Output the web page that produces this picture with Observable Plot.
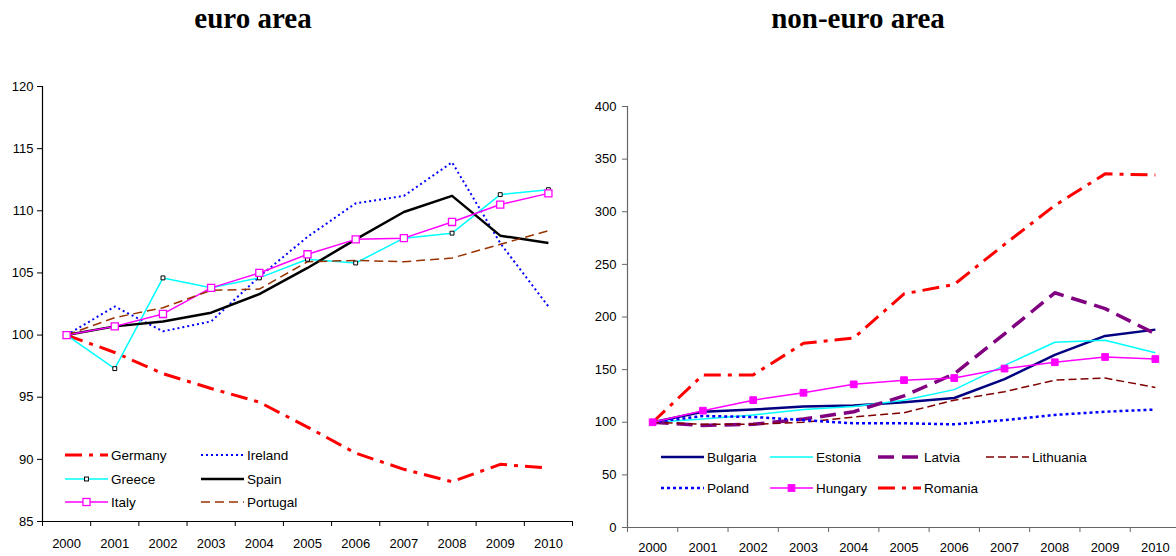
<!DOCTYPE html>
<html><head><meta charset="utf-8">
<script src="https://cdn.jsdelivr.net/npm/d3@7"></script>
<script src="https://cdn.jsdelivr.net/npm/@observablehq/plot@0.6"></script>
<style>
body{margin:0;background:#fff;}
#wrap{position:relative;width:1176px;height:556px;overflow:hidden;font-family:"Liberation Sans",Arial,sans-serif;}
.title{position:absolute;top:0;font-family:"Liberation Serif","Times New Roman",serif;font-weight:bold;font-size:29px;line-height:36px;transform:translateX(-50%);white-space:nowrap;color:#000;}
.panel{position:absolute;top:40px;}
.leg{position:absolute;display:flex;align-items:center;font-size:13.5px;height:20px;transform:translateY(-50%);white-space:nowrap;color:#000;}
.leg svg{margin-right:3px;overflow:visible;}
</style></head>
<body>
<div id="wrap">
  <div class="title" style="left:253px">euro area</div>
  <div class="title" style="left:858px">non-euro area</div>
</div>
<script>
// ---- data ----
const years = [2000, 2001, 2002, 2003, 2004, 2005, 2006, 2007, 2008, 2009, 2010];

// euro area
const germany  = [100, 98.6, 96.9, 95.7, 94.6, 92.6, 90.5, 89.2, 88.2, 89.6, 89.3];
const ireland  = [100, 102.3, 100.3, 101.1, 104.7, 107.9, 110.6, 111.2, 113.9, 107.4, 102.3];
const greece   = [100, 97.3, 104.6, 103.8, 104.6, 106.1, 105.8, 107.8, 108.2, 111.3, 111.7];
const spain    = [100, 100.7, 101.1, 101.8, 103.3, 105.4, 107.7, 109.9, 111.2, 108.0, 107.4];
const italy    = [100, 100.7, 101.7, 103.8, 105.0, 106.5, 107.7, 107.8, 109.1, 110.5, 111.4];
const portugal = [100, 101.4, 102.2, 103.6, 103.7, 105.9, 106.0, 105.9, 106.2, 107.3, 108.4];

// non-euro area
const bulgaria  = [100, 110, 112, 115, 116, 119, 123, 141, 164, 182, 188];
const estonia   = [100, 103, 107, 112, 115, 121, 131, 154, 176, 178, 166];
const latvia    = [100, 97, 98, 103, 110, 125, 146, 184, 223, 208, 184];
const lithuania = [100, 98, 98, 100, 105, 109, 121, 129, 140, 142, 133];
const poland    = [100, 106, 105, 102, 99, 99, 98, 102, 107, 110, 112];
const hungary   = [100, 111, 121, 128, 136, 140, 142, 151, 157, 162, 160];
const romania   = [100, 145, 145, 175, 180, 222, 231, 269, 306, 336, 335];

const leftTicks  = [85, 90, 95, 100, 105, 110, 115, 120];
const rightTicks = [0, 50, 100, 150, 200, 250, 300, 350, 400];

// ---- styles ----
const euroSeries = [
  {name: "Germany",  values: germany,  stroke: "#ff0000", width: 3,   dash: "17,7,4,7"},
  {name: "Ireland",  values: ireland,  stroke: "#0000ff", width: 2,   dash: "2,3"},
  {name: "Greece",   values: greece,   stroke: "#00ffff", width: 1.5, dash: null, marker: {r: 2.2, fill: "#fff", stroke: "#000", sw: 1}},
  {name: "Spain",    values: spain,    stroke: "#000000", width: 2.5, dash: null},
  {name: "Italy",    values: italy,    stroke: "#ff00ff", width: 1.5, dash: null, marker: {r: 4, fill: "#fff", stroke: "#ff00ff", sw: 1.3}},
  {name: "Portugal", values: portugal, stroke: "#993300", width: 1.5, dash: "9,5"}
];
const nonEuroSeries = [
  {name: "Bulgaria",  values: bulgaria,  stroke: "#000080", width: 2.5, dash: null},
  {name: "Estonia",   values: estonia,   stroke: "#00ffff", width: 1.5, dash: null},
  {name: "Latvia",    values: latvia,    stroke: "#800080", width: 3.5, dash: "16,8"},
  {name: "Lithuania", values: lithuania, stroke: "#800000", width: 1.5, dash: "8,4"},
  {name: "Poland",    values: poland,    stroke: "#0000ff", width: 2.5, dash: "3,3"},
  {name: "Hungary",   values: hungary,   stroke: "#ff00ff", width: 1.5, dash: null, marker: {r: 3.8, fill: "#ff00ff", stroke: "#ff00ff", sw: 1}},
  {name: "Romania",   values: romania,   stroke: "#ff0000", width: 3,   dash: "17,7,4,7"}
];

const rows = s => years.map((y, i) => ({year: y, value: s.values[i]}));
const seriesMarks = list => {
  const lines = list.map(s => Plot.line(rows(s), {
    x: "year", y: "value", stroke: s.stroke, strokeWidth: s.width,
    strokeDasharray: s.dash || undefined, strokeLinejoin: "round", strokeLinecap: "butt"
  }));
  const dots = list.filter(s => s.marker).map(s => Plot.dot(rows(s), {
    x: "year", y: "value", symbol: "square", r: s.marker.r,
    fill: s.marker.fill, stroke: s.marker.stroke, strokeWidth: s.marker.sw
  }));
  return [...lines, ...dots];
};

const bounds = years.map(y => y - 0.5).concat([years[years.length - 1] + 0.5]);
const xDomain = [bounds[0], bounds[bounds.length - 1]];
const font = {fontFamily: "'Liberation Sans', Arial, sans-serif", fontSize: "13px", background: "transparent", overflow: "visible", color: "#000"};

function axes(yTicks, axisColor, yPad, xPad, yBase) {
  return [
    Plot.ruleY([yBase], {stroke: axisColor, strokeWidth: 1.2}),
    Plot.ruleX([xDomain[0]], {stroke: axisColor, strokeWidth: 1.2}),
    Plot.axisY({ticks: yTicks, tickSize: 5, tickPadding: yPad, tickFormat: d => String(d), label: null, stroke: axisColor, fill: "#000"}),
    Plot.axisX({ticks: bounds, tickSize: 5, tickFormat: () => "", label: null, stroke: axisColor}),
    Plot.axisX({ticks: years, tickSize: 0, tickPadding: xPad, tickFormat: d => String(d), label: null, fill: "#000"})
  ];
}

const left = Plot.plot({
  width: 580, height: 516, marginLeft: 42, marginRight: 8, marginTop: 46, marginBottom: 35,
  style: font,
  x: {domain: xDomain, label: null},
  y: {domain: [85, 120], label: null},
  marks: [...axes(leftTicks, "#000", 4, 17, 85), ...seriesMarks(euroSeries)]
});
const right = Plot.plot({
  width: 596, height: 516, marginLeft: 47, marginRight: 0, marginTop: 66, marginBottom: 29,
  style: font,
  x: {domain: xDomain, range: [47, 600], label: null},
  y: {domain: [0, 400], label: null},
  marks: [...axes(rightTicks, "#666", 6, 15, 0), ...seriesMarks(nonEuroSeries)]
});

const wrap = document.getElementById("wrap");
left.classList.add("panel"); left.style.left = "0px";
right.classList.add("panel"); right.style.left = "580px";
wrap.appendChild(left);
wrap.appendChild(right);

// ---- legends (layout positions in page pixels) ----
function addLegend(s, x, y) {
  const d = document.createElement("div");
  d.className = "leg";
  d.style.left = x + "px"; d.style.top = y + "px";
  const W = 43;
  let svg = `<svg width="${W}" height="20"><line x1="0" x2="${W}" y1="10" y2="10" stroke="${s.stroke}" stroke-width="${s.width}"${s.dash ? ` stroke-dasharray="${s.dash}"` : ""}/>`;
  if (s.marker) {
    const side = s.marker.r * Math.sqrt(Math.PI);
    svg += `<rect x="${W/2 - side/2}" y="${10 - side/2}" width="${side}" height="${side}" fill="${s.marker.fill}" stroke="${s.marker.stroke}" stroke-width="${s.marker.sw}"/>`;
  }
  svg += `</svg>`;
  d.innerHTML = svg + `<span>${s.name}</span>`;
  wrap.appendChild(d);
}
const euroLegendPos = [[65,455],[201,455],[65,479],[201,479],[65,502],[201,502]];
euroSeries.forEach((s, i) => addLegend(s, euroLegendPos[i][0], euroLegendPos[i][1]));
const nonEuroLegendPos = [[661,457],[770,457],[878,457],[986,457],[661,488],[770,488],[878,488]];
nonEuroSeries.forEach((s, i) => addLegend(s, nonEuroLegendPos[i][0], nonEuroLegendPos[i][1]));
</script>
</body></html>
